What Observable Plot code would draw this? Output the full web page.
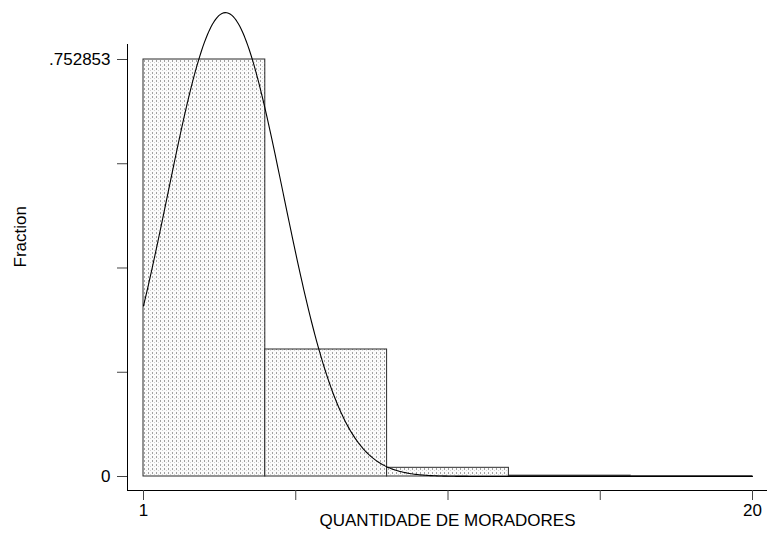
<!DOCTYPE html>
<html>
<head>
<meta charset="utf-8">
<script src="https://cdn.jsdelivr.net/npm/d3@7"></script>
<script src="https://cdn.jsdelivr.net/npm/@observablehq/plot@0.6"></script>
<style>
  html, body { margin: 0; padding: 0; background: #fff; }
  #chart svg { display: block; }
</style>
</head>
<body>
<div id="chart"></div>
<script>
// Histogram bins (QUANTIDADE DE MORADORES) and fraction per bin
const binStart = [1, 4.8, 8.6, 12.4, 16.2];
const binEnd   = [4.8, 8.6, 12.4, 16.2, 20];
const fraction = [0.752853, 0.2293, 0.0157, 0.0015, 0.0006];

// Axis ticks and labels
const xTicks = [1, 5.75, 10.5, 15.25, 20];
const xTickLabels = ["1", "", "", "", "20"];
const yTicks = [0, 0.188213, 0.376427, 0.56464, 0.752853];
const yTickLabels = ["0", "", "", "", ".752853"];

// Overlaid normal density (parameters)
const normalMean = 3.56;
const normalSd = 1.81;
const binWidth = 3.8;

const bins = binStart.map((s, i) => ({x1: s, x2: binEnd[i], y: fraction[i]}));
const curve = d3.range(1, 20.0001, 0.05).map(x => ({
  x,
  y: binWidth * Math.exp(-((x - normalMean) ** 2) / (2 * normalSd ** 2)) / (normalSd * Math.sqrt(2 * Math.PI))
}));

const font = "Liberation Sans, Arial, Helvetica, sans-serif";

const plot = Plot.plot({
  width: 767,
  height: 541,
  marginLeft: 127,
  marginRight: 0,
  marginTop: 44,
  marginBottom: 51,
  style: {fontFamily: font, fontSize: "17px", color: "#000", background: "#fff"},
  x: {domain: [1, 20], insetLeft: 16, insetRight: 15},
  y: {domain: [0, 0.752853], insetTop: 15, insetBottom: 14},
  marks: [
    Plot.rectY(bins, {x1: "x1", x2: "x2", y: "y", fill: "url(#dots)", stroke: "#2a2a2a", strokeWidth: 1}),
    Plot.line(curve, {x: "x", y: "y", stroke: "#000", strokeWidth: 1.1, clip: false}),
    Plot.frame({anchor: "left", stroke: "#000"}),
    Plot.frame({anchor: "bottom", stroke: "#000"}),
    Plot.axisX({ticks: xTicks, tickSize: 10, tickPadding: 3, fontSize: 17, stroke: "#444", fill: "#000",
      tickFormat: (d) => xTickLabels[xTicks.indexOf(d)], label: null}),
    Plot.axisY({ticks: yTicks, tickSize: 10, tickPadding: 7, fontSize: 17, stroke: "#444", fill: "#000",
      tickFormat: (d) => yTickLabels[yTicks.indexOf(d)], label: null}),
    Plot.text(["QUANTIDADE DE MORADORES"], {frameAnchor: "bottom", dy: 35, fontSize: 17, fill: "#000"}),
    Plot.text(["Fraction"], {frameAnchor: "left", dx: -107, rotate: -90, fontSize: 17, fill: "#000"})
  ]
});

// Dotted fill pattern for the bars
const ns = "http://www.w3.org/2000/svg";
const defs = document.createElementNS(ns, "defs");
const pat = document.createElementNS(ns, "pattern");
pat.setAttribute("id", "dots");
pat.setAttribute("patternUnits", "userSpaceOnUse");
pat.setAttribute("width", 4);
pat.setAttribute("height", 4);
const bg = document.createElementNS(ns, "rect");
bg.setAttribute("width", 4); bg.setAttribute("height", 4); bg.setAttribute("fill", "#fbfbfb");
pat.appendChild(bg);
const d1 = document.createElementNS(ns, "rect");
d1.setAttribute("x", 0); d1.setAttribute("y", 0); d1.setAttribute("width", 1); d1.setAttribute("height", 2); d1.setAttribute("fill", "#a0a0a0");
pat.appendChild(d1);
const d2 = document.createElementNS(ns, "rect");
d2.setAttribute("x", 2); d2.setAttribute("y", 2); d2.setAttribute("width", 1); d2.setAttribute("height", 1); d2.setAttribute("fill", "#d4d4d4");
pat.appendChild(d2);
defs.appendChild(pat);
plot.insertBefore(defs, plot.firstChild);

document.getElementById("chart").appendChild(plot);
</script>
</body>
</html>
